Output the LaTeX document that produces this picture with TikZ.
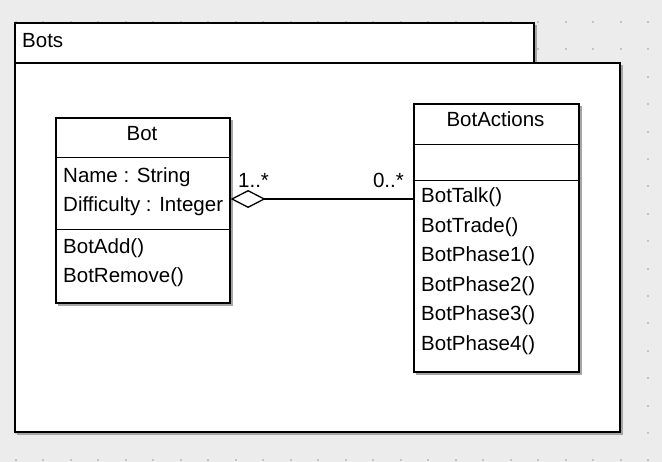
\documentclass[tikz,border=0pt]{standalone}
\usepackage{fontspec}
\setmainfont{Liberation Sans}
\usetikzlibrary{arrows.meta, calc}
\definecolor{canvas}{RGB}{236,236,236}
\definecolor{griddot}{RGB}{196,196,196}
\definecolor{shade}{RGB}{165,165,165}

\begin{document}
\begin{tikzpicture}[x=1pt, y=-1pt, font=\fontsize{20.5}{24}\selectfont,
    frame/.style={draw, line width=1.6pt, fill=white},
    shadowbox/.style={fill=shade},
    sep/.style={line width=1pt},
    member/.style={anchor=base west, inner sep=0pt},
    title/.style={anchor=base, inner sep=0pt},
    mult/.style={inner sep=0pt},
    aggr/.style={line width=1.3pt, -{Diamond[open, length=35pt, width=18pt]}}]
\fill[canvas] (0,0) rectangle (662,462);
\useasboundingbox (0,0) rectangle (662,462);
\foreach \i in {0,...,23}
    \foreach \j in {0,...,16}
        \fill[griddot] ({15.5+27.5*\i-1},{22+27.4*\j-1}) rectangle ++(2,2);
\fill[shadowbox] (17,25) rectangle (537,65);
\fill[shadowbox] (17,65) rectangle (623,435);
\node[frame, minimum width=519pt, minimum height=40pt, anchor=north west] (tab) at (14,22) {};
\node[frame, minimum width=605pt, minimum height=369pt, anchor=north west] (pkg) at (14,62) {};
\node[member] (pkgname) at (22,48) {Bots};
\fill[shadowbox] (58,120) rectangle (233,306);
\node[frame, minimum width=174pt, minimum height=185pt, anchor=north west] (bot) at (55,117) {};
\draw[sep] (bot.west |- 0,158) -- (bot.east |- 0,158);
\draw[sep] (bot.west |- 0,230) -- (bot.east |- 0,230);
\node[title] (botname) at (142,141) {Bot};
\node[member] (botname1) at (63,183) {Name : String};
\node[member] (botdiff) at (63,212) {Difficulty : Integer};
\node[member] (botadd) at (63,254) {BotAdd()};
\node[member] (botremove) at (63,283) {BotRemove()};
\fill[shadowbox] (416,106) rectangle (582,375);
\node[frame, minimum width=165pt, minimum height=268pt, anchor=north west] (actions) at (413,103) {};
\draw[sep] (actions.west |- 0,145) -- (actions.east |- 0,145);
\draw[sep] (actions.west |- 0,181) -- (actions.east |- 0,181);
\node[title] (actionsname) at (495.5,127) {BotActions};
\node[member] (talk) at (421,203) {BotTalk()};
\node[member] (trade) at (421,232.5) {BotTrade()};
\foreach \k in {1,...,4}
    \node[member] (phase\k) at (421,{232.5+29.5*\k}) {BotPhase\k()};
\draw[aggr] (actions.west |- 0,199) -- (bot.east |- 0,199);
\node[mult, anchor=base west] (multbot) at (238,188) {1..*};
\node[mult, anchor=base east] (multactions) at (404,188) {0..*};
\end{tikzpicture}
\end{document}
